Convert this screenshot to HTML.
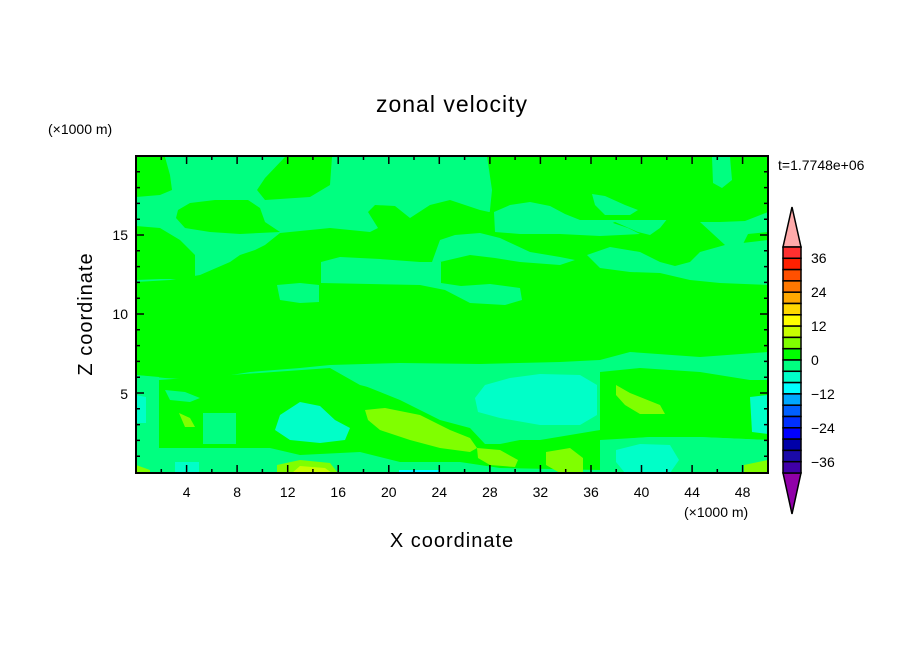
<!DOCTYPE html>
<html><head><meta charset="utf-8"><style>
html,body{margin:0;padding:0;background:#fff;}
svg{display:block;}
text{font-family:"Liberation Sans",sans-serif;fill:#000;}
</style></head><body>
<svg width="904" height="654" viewBox="0 0 904 654" xmlns="http://www.w3.org/2000/svg">
<defs><clipPath id="pc"><rect x="136" y="156" width="632" height="317"/></clipPath></defs>
<g clip-path="url(#pc)">
<rect x="136" y="156" width="632" height="317" fill="#00ff80"/>
<g fill="#00ff00">
<path d="M136,157 L165,157 L170,175 L172,190 L160,195 L136,197Z"/>
<path d="M285,157 L332,157 L330,185 L310,197 L265,200 L257,190 L265,178Z"/>
<path d="M178,210 L190,203 L215,200 L248,200 L260,208 L265,222 L280,232 L240,234 L210,232 L185,228 L176,218Z"/>
<path d="M136,226 L160,228 L180,240 L195,255 L195,279 L160,279 L136,280Z"/>
<path d="M487,156 L768,156 L768,220 L489,220 L492,190Z"/>
<path d="M489,212 L500,210 L530,206 L560,215 L575,225 L600,228 L615,222 L638,232 L650,235 L660,228 L668,218 L700,216 L720,220 L745,219 L758,210 L768,198 L768,352 L700,357 L630,352 L600,360 L560,362 L480,364 L400,363 L330,365 L300,368 L250,372 L200,380 L165,378 L136,375 L136,282 L170,280 L200,275 L230,262 L240,255 L255,250 L265,245 L280,233 L330,228 L370,232 L378,228 L368,212 L375,205 L395,206 L410,218 L430,205 L450,200 L480,210Z"/>
<path d="M159,380 L330,368 L360,385 L400,395 L440,405 L470,425 L490,440 L540,440 L600,430 L600,372 L640,368 L700,372 L750,380 L768,380 L768,440 L700,437 L650,437 L610,440 L600,473 L159,473 L159,448Z"/>
</g>
<g fill="#00ff80">
<path d="M494,212 L510,205 L530,202 L550,206 L565,214 L585,222 L610,222 L628,228 L640,234 L600,236 L560,234 L520,234 L495,232Z"/>
<path d="M592,194 L605,196 L625,205 L638,210 L630,215 L605,215 L595,205Z"/>
<path d="M712,157 L730,157 L732,180 L722,188 L713,183Z"/>
<path d="M700,222 L720,222 L745,221 L768,212 L768,232 L748,234 L740,250 L725,245Z"/>
<path d="M432,262 L440,240 L455,235 L480,233 L500,238 L515,245 L530,252 L560,257 L575,260 L560,265 L520,262 L495,258 L470,255 L440,262Z"/>
<path d="M321,262 L340,257 L380,259 L420,262 L441,262 L441,283 L461,286 L490,284 L520,288 L522,300 L505,305 L470,303 L445,290 L420,285 L321,283Z"/>
<path d="M277,285 L300,283 L319,285 L319,302 L300,303 L280,300Z"/>
<path d="M587,255 L610,247 L640,252 L660,262 L675,266 L690,262 L700,252 L725,245 L768,240 L768,285 L720,283 L690,280 L660,273 L630,272 L600,268Z"/>
<path d="M136,375 L159,377 L159,448 L136,448Z"/>
<path d="M330,366 L400,364 L480,366 L560,364 L598,368 L600,430 L560,432 L500,444 L485,444 L470,428 L440,420 L400,400 L360,384Z"/>
<path d="M203,413 L236,413 L236,444 L203,444Z"/>
<path d="M136,448 L270,448 L300,455 L360,452 L400,462 L460,462 L500,468 L600,470 L600,473 L136,473Z"/>
<path d="M600,440 L650,437 L700,437 L768,440 L768,473 L600,473Z"/>
<path d="M165,390 L185,392 L200,398 L190,402 L170,400Z"/>
</g>
<g fill="#00ffc8">
<path d="M485,385 L510,378 L540,374 L580,375 L597,385 L597,415 L580,425 L540,425 L500,418 L478,412 L475,398Z"/>
<path d="M280,415 L300,402 L320,406 L335,420 L350,428 L345,440 L320,443 L290,440 L275,430Z"/>
<path d="M616,450 L640,444 L670,445 L679,460 L670,473 L625,473 L616,462Z"/>
<path d="M750,397 L768,395 L768,434 L752,432Z"/>
<path d="M136,395 L146,397 L146,423 L136,423Z"/>
<path d="M175,462 L199,462 L199,473 L175,473Z"/>
</g>
<path d="M399,470 L440,470 L440,473 L399,473Z" fill="#00ffff"/>
<g fill="#80ff00">
<path d="M365,410 L385,408 L420,415 L450,430 L470,438 L477,448 L470,452 L440,448 L410,440 L380,430 L368,420Z"/>
<path d="M477,448 L500,450 L518,460 L515,467 L490,465 L478,458Z"/>
<path d="M546,452 L570,448 L583,458 L583,473 L560,473 L546,465Z"/>
<path d="M616,385 L630,393 L660,405 L665,414 L640,414 L625,405 L616,395Z"/>
<path d="M179,413 L190,418 L195,427 L185,427Z"/>
<path d="M136,465 L150,470 L150,473 L136,473Z"/>
<path d="M277,465 L300,460 L330,463 L338,473 L277,473Z"/>
<path d="M744,465 L768,460 L768,473 L744,473Z"/>
</g>
<path d="M292,473 L300,466 L325,468 L332,473Z" fill="#c8ff00"/>
</g>
<rect x="136" y="156" width="632" height="317" fill="none" stroke="#000" stroke-width="2"/>
<g stroke="#000" stroke-width="1.5">
<path d="M161.3,473v-4M186.6,473v-8M211.8,473v-4M237.1,473v-8M262.4,473v-4M287.7,473v-8M312.9,473v-4M338.2,473v-8M363.5,473v-4M388.8,473v-8M414,473v-4M439.3,473v-8M464.6,473v-4M489.9,473v-8M515.1,473v-4M540.4,473v-8M565.7,473v-4M591,473v-8M616.2,473v-4M641.5,473v-8M666.8,473v-4M692.1,473v-8M717.3,473v-4M742.6,473v-8"/>
<path d="M161.3,156v4M186.6,156v8M211.8,156v4M237.1,156v8M262.4,156v4M287.7,156v8M312.9,156v4M338.2,156v8M363.5,156v4M388.8,156v8M414,156v4M439.3,156v8M464.6,156v4M489.9,156v8M515.1,156v4M540.4,156v8M565.7,156v4M591,156v8M616.2,156v4M641.5,156v8M666.8,156v4M692.1,156v8M717.3,156v4M742.6,156v8"/>
<path d="M136,456.2h4M136,440.4h4M136,424.6h4M136,408.8h4M136,393h8M136,377.2h4M136,361.4h4M136,345.6h4M136,329.8h4M136,314h8M136,298.2h4M136,282.4h4M136,266.6h4M136,250.8h4M136,235h8M136,219.2h4M136,203.4h4M136,187.6h4M136,171.8h4"/>
<path d="M768,456.2h-4M768,440.4h-4M768,424.6h-4M768,408.8h-4M768,393h-8M768,377.2h-4M768,361.4h-4M768,345.6h-4M768,329.8h-4M768,314h-8M768,298.2h-4M768,282.4h-4M768,266.6h-4M768,250.8h-4M768,235h-8M768,219.2h-4M768,203.4h-4M768,187.6h-4M768,171.8h-4"/>
</g>
<g font-size="14" text-anchor="middle">
<text x="186.6" y="497">4</text><text x="237.1" y="497">8</text><text x="287.7" y="497">12</text><text x="338.2" y="497">16</text><text x="388.8" y="497">20</text><text x="439.3" y="497">24</text><text x="489.9" y="497">28</text><text x="540.4" y="497">32</text><text x="591" y="497">36</text><text x="641.5" y="497">40</text><text x="692.1" y="497">44</text><text x="742.6" y="497">48</text>
</g>
<g font-size="14" text-anchor="end">
<text x="128" y="240">15</text><text x="128" y="319">10</text><text x="128" y="399">5</text>
</g>
<text x="452" y="112" font-size="23" text-anchor="middle" letter-spacing="1">zonal velocity</text>
<text x="452" y="547" font-size="20" text-anchor="middle" letter-spacing="1">X coordinate</text>
<text transform="translate(92,314) rotate(-90)" font-size="20" text-anchor="middle" letter-spacing="1">Z coordinate</text>
<text x="48" y="134" font-size="14">(×1000 m)</text>
<text x="684" y="517" font-size="14">(×1000 m)</text>
<text x="778" y="170" font-size="14">t=1.7748e+06</text>
<g stroke="#000" stroke-width="1.5">
<path d="M792,207 L801,247 L783,247Z" fill="#ffaaaa"/>
<path d="M783,473 L801,473 L792,514Z" fill="#9000a8"/>
<rect x="783" y="247.0" width="18" height="11.3" fill="#ff3030"/>
<rect x="783" y="258.3" width="18" height="11.3" fill="#ff2000"/>
<rect x="783" y="269.6" width="18" height="11.3" fill="#ff5000"/>
<rect x="783" y="280.9" width="18" height="11.3" fill="#ff7800"/>
<rect x="783" y="292.2" width="18" height="11.3" fill="#ffa800"/>
<rect x="783" y="303.5" width="18" height="11.3" fill="#ffd800"/>
<rect x="783" y="314.8" width="18" height="11.3" fill="#ffff00"/>
<rect x="783" y="326.1" width="18" height="11.3" fill="#c8ff00"/>
<rect x="783" y="337.4" width="18" height="11.3" fill="#80ff00"/>
<rect x="783" y="348.7" width="18" height="11.3" fill="#00ff00"/>
<rect x="783" y="360.0" width="18" height="11.3" fill="#00ff80"/>
<rect x="783" y="371.3" width="18" height="11.3" fill="#00ffc8"/>
<rect x="783" y="382.6" width="18" height="11.3" fill="#00ffff"/>
<rect x="783" y="393.9" width="18" height="11.3" fill="#00a8ff"/>
<rect x="783" y="405.2" width="18" height="11.3" fill="#0060ff"/>
<rect x="783" y="416.5" width="18" height="11.3" fill="#0030ff"/>
<rect x="783" y="427.8" width="18" height="11.3" fill="#0000ff"/>
<rect x="783" y="439.1" width="18" height="11.3" fill="#0000a8"/>
<rect x="783" y="450.4" width="18" height="11.3" fill="#1a0aa8"/>
<rect x="783" y="461.7" width="18" height="11.3" fill="#4000a8"/>
</g>
<g font-size="14">
<text x="811" y="263">36</text><text x="811" y="297">24</text><text x="811" y="331">12</text><text x="811" y="365">0</text><text x="811" y="399">−12</text><text x="811" y="433">−24</text><text x="811" y="467">−36</text>
</g>
</svg>
</body></html>
